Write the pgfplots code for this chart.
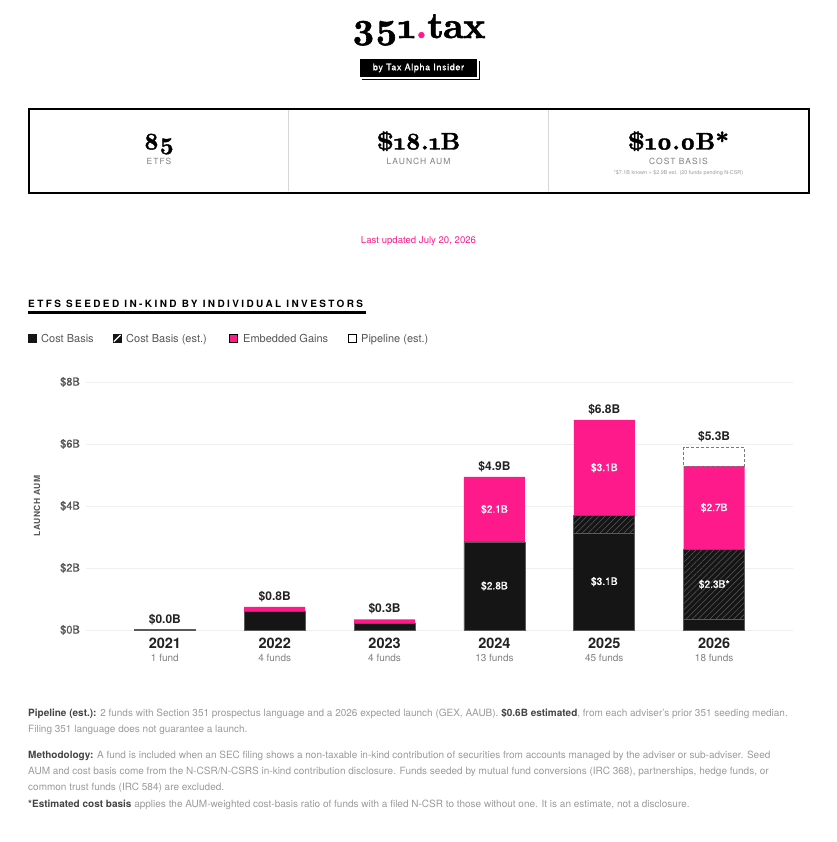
\documentclass[border=0pt]{standalone}
\usepackage{fontspec}
\usepackage{pgfplots}
\pgfplotsset{compat=1.18}
\usetikzlibrary{patterns.meta}
\setmainfont{TeX Gyre Heros}
\newfontfamily\logofont[Numbers=OldStyle, FakeBold=1.6]{lmroman10-bold.otf}
\newfontfamily\medfont[FakeBold=0.7]{TeX Gyre Heros}
\newcommand\fs[1]{\fontsize{#1}{#1}\selectfont}

\definecolor{pinkc}{HTML}{FF1A8C}
\definecolor{cblack}{HTML}{151515}
\definecolor{cedge}{HTML}{5A5A5A}
\definecolor{chatch}{HTML}{5C5C5C}
\definecolor{cgrid}{HTML}{EFEFEF}
\definecolor{cdiv}{HTML}{D6D6D6}
\definecolor{cdark}{HTML}{222222}
\definecolor{ctick}{HTML}{555555}
\definecolor{cfund}{HTML}{808080}
\definecolor{cnote}{HTML}{9A9A9A}
\definecolor{cnotebold}{HTML}{444444}
\definecolor{cdash}{HTML}{7A7A7A}

\tikzset{
  totallbl/.style={anchor=base, yshift=6.5pt, inner sep=0, text=cdark, font=\bfseries\fs{12}},
  seglbl/.style={anchor=center, inner sep=0, text=white, font=\medfont\fs{10.2}},
}

\begin{document}
\begin{tikzpicture}[x=1pt,y=-1pt]
% canvas
\path (0,0) rectangle (836,842);

% ---- masthead ----
\node[anchor=base, inner sep=0] at (418.5,38) {\logofont\fs{37}\addfontfeatures{LetterSpace=-2}351{\color{pinkc}.}tax};
\fill[black] (360,59) rectangle (477,77);
\draw[black, line width=0.8pt] (362,79.3) -- (479.3,79.3) -- (479.3,61);
\node[text=white, inner sep=0] at (418.5,68) {\medfont\fs{9}\addfontfeatures{LetterSpace=7}by Tax Alpha Insider};

% ---- summary cards ----
\draw[line width=2.5pt] (29,109) rectangle (809,193);
\draw[cdiv, line width=0.8pt] (288.7,110.5) -- (288.7,191.5);
\draw[cdiv, line width=0.8pt] (548.3,110.5) -- (548.3,191.5);
\node[anchor=base, inner sep=0] at (159,149.5) {\logofont\fs{24}85};
\node[anchor=base, inner sep=0] at (418.5,149.5) {\logofont\fs{24}\$18.1B};
\node[anchor=base, inner sep=0] at (678.5,149.5) {\logofont\fs{24}\$10.0B*};
\node[anchor=base, inner sep=0, text=cfund] at (159,165) {\fs{8.5}\addfontfeatures{LetterSpace=12}ETFS};
\node[anchor=base, inner sep=0, text=cfund] at (418.5,165) {\fs{8.5}\addfontfeatures{LetterSpace=12}LAUNCH AUM};
\node[anchor=base, inner sep=0, text=cfund] at (678.5,165) {\fs{8.5}\addfontfeatures{LetterSpace=12}COST BASIS};
\node[anchor=base, inner sep=0, text=cnote] at (678.5,174.5) {\fs{5.4}*\$7.1B known + \$2.9B est. (20 funds pending N-CSR)};

\node[anchor=base, inner sep=0, text=pinkc] at (418.5,243) {\fs{9.6}Last updated July 20, 2026};

% ---- section heading ----
\node[anchor=base west, inner sep=0, text=black] at (28,307) {\bfseries\fs{10}\addfontfeatures{LetterSpace=24}ETFS SEEDED IN-KIND BY INDIVIDUAL INVESTORS};
\fill[black] (28,311) rectangle (366,313.5);

% ---- legend ----
\fill[cblack] (28,334) rectangle (36.5,342.5);
\fill[cblack] (113,334) rectangle (121.5,342.5);
\draw[white, line width=1.2pt] (114,341.5) -- (120.5,335);
\filldraw[fill=pinkc, draw=black, line width=0.8pt] (229.4,334.4) rectangle (237.6,342.1);
\filldraw[fill=white, draw=black, line width=0.8pt] (348.4,334.4) rectangle (356.6,342.1);
\node[anchor=base west, inner sep=0, text=ctick] at (41,342.5) {\fs{11}Cost Basis};
\node[anchor=base west, inner sep=0, text=ctick] at (126,342.5) {\fs{11}Cost Basis (est.)};
\node[anchor=base west, inner sep=0, text=ctick] at (243,342.5) {\fs{11}Embedded Gains};
\node[anchor=base west, inner sep=0, text=ctick] at (361,342.5) {\fs{11}Pipeline (est.)};

% ---- y-axis title ----
\node[rotate=90, inner sep=0, text=ctick] at (37,506) {\bfseries\fs{8.5}\addfontfeatures{LetterSpace=6}LAUNCH AUM};

% ---- stacked bars ----
\begin{axis}[
  at={(86pt,-630pt)}, anchor=south west,
  width=707pt, height=248pt, scale only axis,
  xmin=-0.718, xmax=5.718, ymin=0, ymax=8,
  ybar stacked, bar width=61pt,
  axis line style={draw=none}, tick style={draw=none}, major tick length=0pt,
  ymajorgrids, grid style={draw=cgrid, line width=1pt},
  ytick={0,2,4,6,8}, yticklabels={\$0B,\$2B,\$4B,\$6B,\$8B},
  yticklabel style={font=\medfont\fs{11}, text=ctick, anchor=east, inner sep=0pt, xshift=-6pt},
  xtick={0,1,2,3,4,5},
  xticklabels={
    {\bfseries\fs{14.5}2021\\[1pt]\mdseries\fs{10}\color{cfund}1 fund},
    {\bfseries\fs{14.5}2022\\[1pt]\mdseries\fs{10}\color{cfund}4 funds},
    {\bfseries\fs{14.5}2023\\[1pt]\mdseries\fs{10}\color{cfund}4 funds},
    {\bfseries\fs{14.5}2024\\[1pt]\mdseries\fs{10}\color{cfund}13 funds},
    {\bfseries\fs{14.5}2025\\[1pt]\mdseries\fs{10}\color{cfund}45 funds},
    {\bfseries\fs{14.5}2026\\[1pt]\mdseries\fs{10}\color{cfund}18 funds}},
  xticklabel style={align=center, anchor=north, inner sep=0pt, yshift=-7.5pt, text=cdark},
  /pgf/number format/assume math mode=true,
  clip=false,
]
% Cost Basis (reported)
\addplot[fill=cblack, draw=cedge, line width=0.6pt]
  coordinates {(0,0.01) (1,0.59) (2,0.22) (3,2.84) (4,3.12) (5,0.34)};
% Cost Basis (estimated)
\addplot[fill=cblack, draw=cedge, line width=0.6pt,
  postaction={pattern={Lines[angle=45,distance=4.2pt,line width=0.5pt]}, pattern color=chatch}]
  coordinates {(0,0) (1,0) (2,0) (3,0) (4,0.57) (5,2.26)};
% Embedded Gains
\addplot[fill=pinkc, draw=none]
  coordinates {(0,0.005) (1,0.16) (2,0.12) (3,2.10) (4,3.09) (5,2.69)};

% totals (excluding pipeline)
\node[totallbl] at (axis cs:0,0.015) {\$0.0B};
\node[totallbl] at (axis cs:1,0.75) {\$0.8B};
\node[totallbl] at (axis cs:2,0.34) {\$0.3B};
\node[totallbl] at (axis cs:3,4.94) {\$4.9B};
\node[totallbl] at (axis cs:4,6.78) {\$6.8B};
\node[totallbl] at (axis cs:5,5.89) {\$5.3B};
\end{axis}

% pipeline segment, stacked on the 2026 total, and the segment values on top
\begin{axis}[
  at={(86pt,-630pt)}, anchor=south west,
  width=707pt, height=248pt, scale only axis,
  xmin=-0.718, xmax=5.718, ymin=0, ymax=8,
  ybar stacked, bar width=61pt, hide axis, clip=false,
]
\addplot[draw=none, fill=none] coordinates {(5,5.29)};
\addplot[fill=white, draw=cdash, line width=0.9pt, dash pattern=on 3pt off 2pt] coordinates {(5,0.60)};
\node[seglbl] at (axis cs:3,1.42) {\$2.8B};
\node[seglbl] at (axis cs:3,3.89) {\$2.1B};
\node[seglbl] at (axis cs:4,1.56) {\$3.1B};
\node[seglbl] at (axis cs:4,5.235) {\$3.1B};
\node[seglbl] at (axis cs:5,1.47) {\$2.3B*};
\node[seglbl] at (axis cs:5,3.945) {\$2.7B};
\end{axis}

% ---- notes ----
\begin{scope}[every node/.style={anchor=base west, inner sep=0, text=cnote, font=\fs{10}}]
\node at (28,716) {{\bfseries\color{cnotebold}Pipeline (est.):} 2 funds with Section 351 prospectus language and a 2026 expected launch (GEX, AAUB). {\bfseries\color{cnotebold}\$0.6B estimated}, from each adviser's prior 351 seeding median.};
\node at (28,732) {Filing 351 language does not guarantee a launch.};
\node at (28,758) {{\bfseries\color{cnotebold}Methodology:} A fund is included when an SEC filing shows a non-taxable in-kind contribution of securities from accounts managed by the adviser or sub-adviser. Seed};
\node at (28,774) {AUM and cost basis come from the N-CSR/N-CSRS in-kind contribution disclosure. Funds seeded by mutual fund conversions (IRC 368), partnerships, hedge funds, or};
\node at (28,790) {common trust funds (IRC 584) are excluded.};
\node at (28,807) {{\bfseries\color{cnotebold}*Estimated cost basis} applies the AUM-weighted cost-basis ratio of funds with a filed N-CSR to those without one. It is an estimate, not a disclosure.};
\end{scope}
\end{tikzpicture}
\end{document}
